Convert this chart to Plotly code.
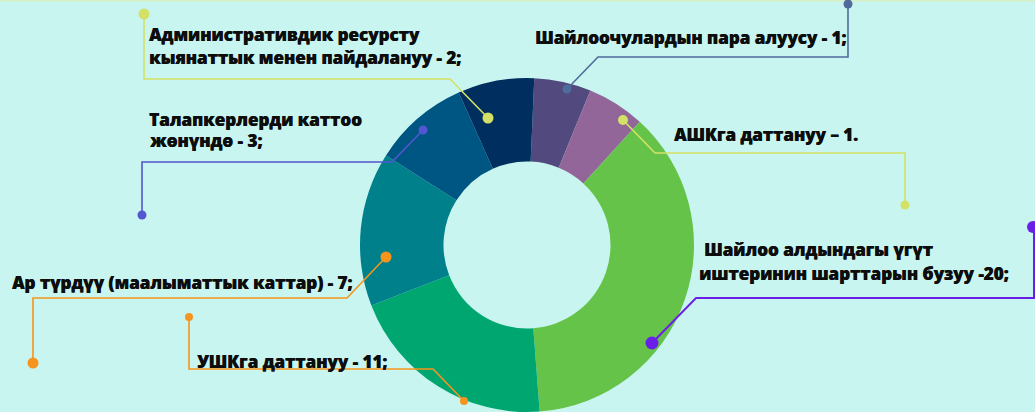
import plotly.graph_objects as go

W, H = 1035, 412

# Categories and reported counts (as written in labels)
categories = [
    "Шайлоочулардын пара алуусу",
    "АШКга даттануу",
    "Шайлоо алдындагы үгүт иштеринин шарттарын бузуу",
    "УШКга даттануу",
    "Ар түрдүү (маалыматтык каттар)",
    "Талапкерлерди каттоо жөнүндө",
    "Административдик ресурсту кыянаттык менен пайдалануу",
]
counts = [1, 1, 20, 11, 7, 3, 2]
# Slice sizes as drawn in the picture (percent of the ring)
slice_share = [5.5, 5.6, 37.0, 20.3, 14.9, 9.3, 7.4]
colors = ["#524a7e", "#926699", "#66c34a", "#00a66f", "#00808b", "#005682", "#002f5f"]

BG = "#c8f5ef"
FONT = "Open Sans"

def px(x):
    return x / W

def py(y):
    return 1 - y / H

fig = go.Figure()

cx, cy, r = 527, 245, 167
fig.add_trace(go.Pie(
    labels=categories,
    values=slice_share,
    customdata=counts,
    marker=dict(colors=colors, line=dict(width=0)),
    hole=0.5,
    sort=False,
    direction="clockwise",
    rotation=2.5,
    textinfo="none",
    hoverinfo="label",
    showlegend=False,
    domain=dict(x=[px(cx - r), px(cx + r)], y=[py(cy + r), py(cy - r)]),
))

shapes = []

def leader(points, color, dots, width=1.6):
    path = "M " + " L ".join(f"{px(x):.5f},{py(y):.5f}" for x, y in points)
    shapes.append(dict(type="path", path=path, xref="paper", yref="paper",
                       line=dict(color=color, width=width), layer="above"))
    for (x, y, rad) in dots:
        shapes.append(dict(type="circle", xref="paper", yref="paper",
                           x0=px(x - rad), x1=px(x + rad), y0=py(y + rad), y1=py(y - rad),
                           fillcolor=color, line=dict(width=0), layer="above"))

YEL = "#d3e266"
# top border
shapes.append(dict(type="line", xref="paper", yref="paper", x0=0, x1=1, y0=py(0.5), y1=py(0.5),
                   line=dict(color="#d7efc4", width=2)))

# Административдик
leader([(144, 14), (144, 79), (450, 79), (488, 118)], YEL, [(144, 14, 5.5), (488, 118, 5.5)])
# Талапкерлер
leader([(423, 130), (392, 162), (142, 162), (142, 215)], "#5356d0", [(423, 130, 4.5), (142, 215, 4.5)])
# Пара алуусу
leader([(848, 4), (848, 57), (598, 57), (567, 89)], "#4f6b9c", [(848, 4, 4.5), (567, 89, 4.5)])
# АШК
leader([(623, 120), (655, 153), (905, 153), (905, 205)], YEL, [(623, 120, 5), (905, 205, 4.5)])
# Шайлоо алдындагы
leader([(652, 343), (696, 298), (1034, 298), (1034, 227)], "#6a1fe8", [(652, 343, 6.5), (1033, 227, 6)], width=2)
# Ар түрдүү
leader([(386, 257), (347, 298), (33, 298), (33, 363)], "#f7941d", [(386, 257, 5.5), (33, 363, 5.5)])
# УШК
leader([(189, 317), (189, 369), (433, 369), (464, 401)], "#f7941d", [(189, 317, 4), (464, 401, 4)])

texts = [
    (147, 35, "Административдик ресурсту"),
    (147, 57, f"кыянаттык менен пайдалануу - {counts[6]};"),
    (147, 119, "Талапкерлерди каттоо"),
    (147, 141, f"жөнүндө - {counts[5]};"),
    (533, 38, f"Шайлоочулардын пара алуусу - {counts[0]};"),
    (672, 134, f"АШКга даттануу – {counts[1]}."),
    (702, 250, "Шайлоо алдындагы үгүт"),
    (697, 273, f"иштеринин шарттарын бузуу -{counts[2]};"),
    (10, 282, f"Ар түрдүү (маалыматтык каттар) - {counts[4]};"),
    (195, 361, f"УШКга даттануу - {counts[3]};"),
]
annotations = []
for x, y, t in texts:
    annotations.append(dict(x=px(x), y=py(y), xref="paper", yref="paper", text=t,
                            showarrow=False, xanchor="left", yanchor="middle", align="left",
                            font=dict(family=FONT, size=17, color="#0d0d0d", weight=800,
                                      shadow="0.45px 0px 0px #0d0d0d")))

fig.update_layout(
    width=W, height=H,
    margin=dict(l=0, r=0, t=0, b=0),
    paper_bgcolor=BG, plot_bgcolor=BG,
    shapes=shapes,
    annotations=annotations,
)

fig.write_html("out.html", config={"displayModeBar": False},
               post_script="document.body.style.margin='0';document.body.style.overflow='hidden';")
